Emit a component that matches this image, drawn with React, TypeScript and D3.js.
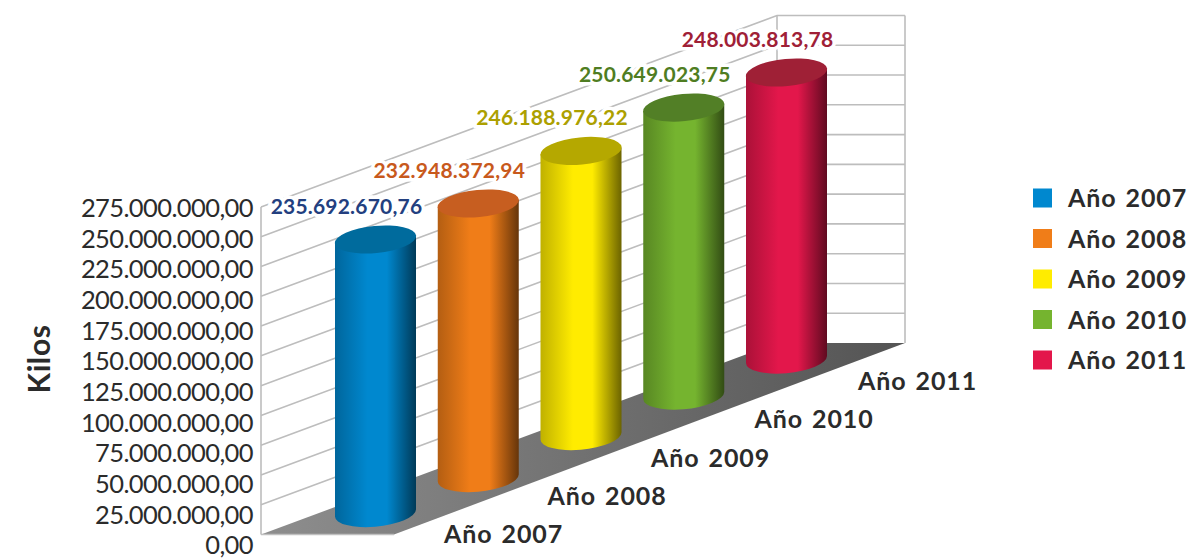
import React from "react";
import * as d3 from "d3";

const categories = ["Año 2007", "Año 2008", "Año 2009", "Año 2010", "Año 2011"];
const valueLabels = ["235.692.670,76", "232.948.372,94", "246.188.976,22", "250.649.023,75", "248.003.813,78"];
// cylinder heights, in kilos
const drawnValues = [236500000, 237400000, 246500000, 249000000, 248200000];
const baseLevels = [513, 478, 436, 395.5, 359.5];
const bodyColors = ["#0088cf", "#f07d18", "#ffec00", "#75b42f", "#e3174b"];
const topColors = ["#006b9d", "#c75e20", "#b5a800", "#527f26", "#9f2036"];
const labelColors = ["#233f7f", "#c8591c", "#aca000", "#4f7d22", "#9f2036"];
const tickValues = d3.range(0, 12).map((i) => i * 25000000);
const tickLabels = ["0,00", "25.000.000,00", "50.000.000,00", "75.000.000,00", "100.000.000,00", "125.000.000,00", "150.000.000,00", "175.000.000,00", "200.000.000,00", "225.000.000,00", "250.000.000,00", "275.000.000,00"];

const FONT = "Lato, 'Noto Sans', sans-serif";
const maxV = 275000000;

// wall / grid scales
const gridFront = d3.scaleLinear().domain([0, maxV]).range([534.5, 207]);
const depthDX = 516;
const depthDY = -191.5;
const wallW = 128;
const tickY = d3.scaleLinear().domain([0, maxV]).range([545, 207.7]);

// cylinders
const xC = d3.scalePoint<string>().domain(categories).range([375.5, 786.5]);
const yBase = d3.scaleOrdinal<string, number>().domain(categories).range(baseLevels);
const hScale = d3.scaleLinear().domain([0, maxV]).range([0, 318]);
const RX = 40.5;
const RY = 13.6;
const TILT = -5.5;
const SKEW = 3.4;

// category labels
const catX = d3.scalePoint<string>().domain(categories).range([444, 858]);
const catY = d3.scalePoint<string>().domain(categories).range([543, 390]);
// legend
const legY = d3.scalePoint<string>().domain(categories).range([198, 360]);

const catStyle = { letterSpacing: "0.9px", wordSpacing: "2px" };

export default function App() {
  return (
    <svg width={1190} height={560} style={{ position: "absolute", left: 0, top: 0, background: "#fff" }} fontFamily={FONT}>
      <defs>
        <linearGradient id="floor" x1="0" y1="0" x2="1" y2="0">
          <stop offset="0" stopColor="#8e8e8e" />
          <stop offset="1" stopColor="#545454" />
        </linearGradient>
        {categories.map((c, i) => {
          const col = d3.color(bodyColors[i])!;
          return (
            <linearGradient key={c} id={`g${i}`} x1="0" y1="0" x2="1" y2="0">
              <stop offset="0" stopColor={col.darker(0.8).toString()} />
              <stop offset="0.4" stopColor={bodyColors[i]} />
              <stop offset="0.64" stopColor={bodyColors[i]} />
              <stop offset="1" stopColor={col.darker(2.4).toString()} />
            </linearGradient>
          );
        })}
      </defs>

      {/* floor */}
      <path d={`M${261},${gridFront(0)}L${261 + depthDX},${gridFront(0) + depthDY}h${wallW}L${394},${gridFront(0)}Z`} fill="url(#floor)" />
      <path d={`M${261},${gridFront(0)}H${394}`} stroke="#c0c0c0" strokeWidth={1.6} />

      {/* walls */}
      <g stroke="#bdbdbd" strokeWidth={1.6} fill="none">
        <path d={`M261,${gridFront(0)}V${gridFront(maxV)}`} />
        <path d={`M${261 + depthDX},${gridFront(0) + depthDY}V${gridFront(maxV) + depthDY}`} />
        <path d={`M${261 + depthDX + wallW},${gridFront(0) + depthDY}V${gridFront(maxV) + depthDY}`} />
        {tickValues.filter((t) => t > 0).map((t) => (
          <path key={t} d={`M261,${gridFront(t)}l${depthDX},${depthDY}h${wallW}`} />
        ))}
      </g>

      {/* tick labels */}
      <g fill="#2b2b2b" fontSize={25.5} textAnchor="end" style={{ letterSpacing: "-0.6px" }}>
        {tickValues.map((t, i) => (
          <text key={t} x={253} y={tickY(t)} dy="0.36em">{tickLabels[i]}</text>
        ))}
      </g>
      <text transform="translate(50,359) rotate(-90)" textAnchor="middle" fontSize={30} fontWeight={700} fill="#2b2b2b" style={{ letterSpacing: "0.6px" }}>Kilos</text>

      {/* cylinders */}
      {categories.map((c, i) => {
        const cx = xC(c)!;
        const by = yBase(c);
        const ty = by - hScale(drawnValues[i]);
        return (
          <g key={c}>
            <path
              d={`M${cx - RX},${ty + SKEW}L${cx - RX},${by + SKEW}A${RX},${RY} ${TILT} 0 0 ${cx + RX},${by - SKEW}L${cx + RX},${ty - SKEW}Z`}
              fill={`url(#g${i})`}
            />
            <ellipse cx={cx} cy={ty} rx={RX + 0.3} ry={RY} transform={`rotate(${TILT} ${cx} ${ty})`} fill={topColors[i]} />
          </g>
        );
      })}

      {/* value labels */}
      <g fontSize={21} fontWeight={700} textAnchor="middle" stroke="#fff" strokeWidth={7} strokeLinejoin="miter">
        {categories.map((c, i) => (
          <text key={c} x={xC(c)! - 29} y={yBase(c) - hScale(drawnValues[i]) - 25.5} fill={labelColors[i]} style={{ paintOrder: "stroke", letterSpacing: "0.2px" }}>{valueLabels[i]}</text>
        ))}
      </g>

      {/* category labels */}
      <g fontSize={25} fontWeight={700} fill="#2b2b2b" style={catStyle}>
        {categories.map((c) => (
          <text key={c} x={catX(c)} y={catY(c)}>{c}</text>
        ))}
      </g>

      {/* legend */}
      {categories.map((c, i) => (
        <g key={c}>
          <rect x={1033} y={legY(c)! - 9.5} width={19} height={19} fill={bodyColors[i]} />
          <text x={1068} y={legY(c)!} dy="0.36em" fontSize={25} fontWeight={700} fill="#2b2b2b" style={catStyle}>{c}</text>
        </g>
      ))}
    </svg>
  );
}
